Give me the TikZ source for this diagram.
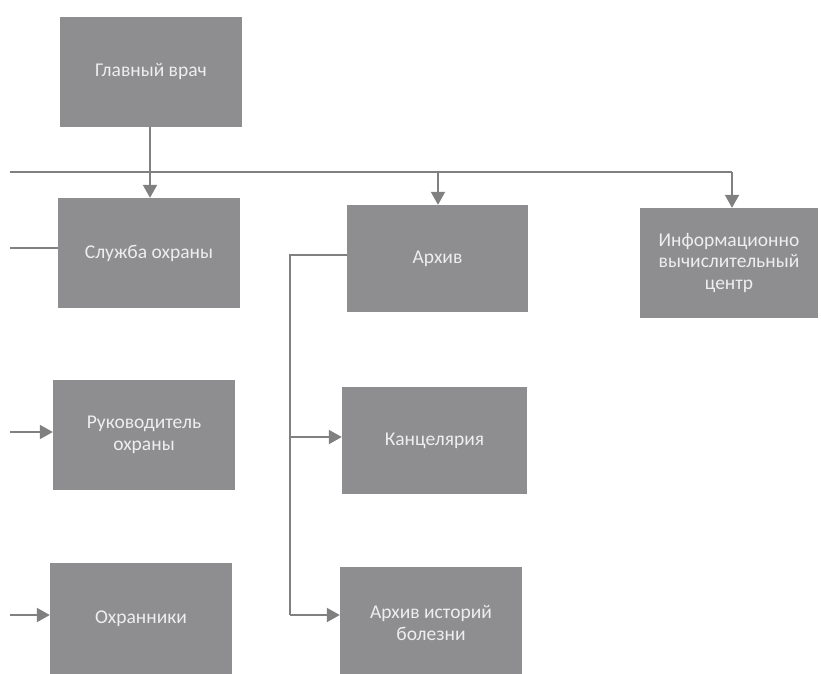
\documentclass[tikz,border=0pt]{standalone}
\usepackage{fontspec}
\setmainfont{Carlito}
\usetikzlibrary{arrows.meta}
\definecolor{boxgray}{RGB}{142,142,144}
\definecolor{linegray}{RGB}{128,128,128}
\definecolor{txt}{RGB}{238,238,238}
\tikzset{
  orgbox/.style={rectangle, fill=boxgray, text=txt, minimum width=182pt, minimum height=110pt,
    inner sep=2pt, align=center, font=\fontsize{19.5}{21.5}\selectfont},
  conn/.style={draw=linegray, line width=2pt},
  arr/.style={conn, -{Triangle[length=13pt,width=14pt]}}
}
\begin{document}
\begin{tikzpicture}[x=1pt,y=-1pt]
\useasboundingbox[fill=white] (0,0) rectangle (821,673);
\node[orgbox] (gv)  at (151,71.5) {Главный врач};
\node[orgbox] (so)  at (149,253) {Служба охраны};
\node[orgbox, minimum width=181pt, minimum height=107pt] (ar) at (437.5,258.5) {Архив};
\node[orgbox, minimum width=178pt] (ivc) at (729,263) {Информационно\\вычислительный\\центр};
\node[orgbox] (ro)  at (144,435) {Руководитель\\охраны};
\node[orgbox, minimum height=112pt] (oh)  at (141,619) {Охранники};
\node[orgbox, minimum width=185pt, minimum height=107pt] (kn)  at (434.5,440.5) {Канцелярия};
\node[orgbox, minimum height=112pt] (ah)  at (431,623) {Архив историй\\болезни};
% bus
\coordinate (busL) at (10,172);
\coordinate (busR) at (732,172);
\draw[conn] (busL) -- (busR);
\draw[arr] (gv.south -| 150,0) -- (so.north -| 150,0);
\draw[arr] (438,172) -- (ar.north -| 438,0);
\draw[arr] (busR) -- (ivc.north -| busR);
% left side
\coordinate (l1) at (10,248);
\coordinate (l2) at (10,432);
\coordinate (l3) at (10,615);
\draw[conn] (l1) -- (so.west |- l1);
\draw[arr] (l2) -- (ro.west |- l2);
\draw[arr] (l3) -- (oh.west |- l3);
% archive branch
\coordinate (av) at (290,255);
\coordinate (ab) at (290,615);
\draw[conn] (ar.west |- av) -- (av) -- (ab);
\draw[arr] (290,437) -- (kn.west |- 0,437);
\draw[arr] (ab) -- (ah.west |- ab);
\end{tikzpicture}
\end{document}
